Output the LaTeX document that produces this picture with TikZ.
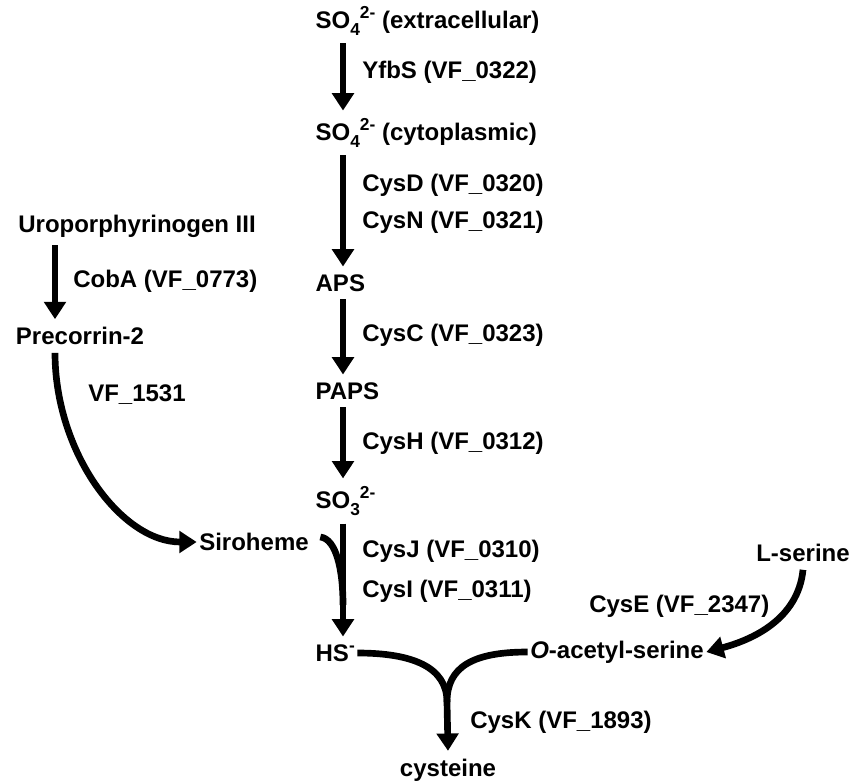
\documentclass[tikz,border=0pt]{standalone}
\usepackage{fontspec}
\setmainfont{Liberation Sans}
\usetikzlibrary{arrows.meta}
\tikzset{
  every node/.style={font=\fontsize{18}{21}\selectfont\bfseries, inner sep=0pt},
  met/.style={outer xsep=2pt, outer ysep=6pt},
  enz/.style={anchor=west},
  rxn/.style={line width=5pt, -{Triangle[width=16pt,length=13pt]}},
  rxnline/.style={line width=5pt}
}
\newcommand{\ionsub}[1]{\raisebox{-0.28em}{\fontsize{13}{13}\selectfont #1}}
\newcommand{\ionsup}[1]{\raisebox{0.42em}{\fontsize{13}{13}\selectfont #1}}
\newcommand{\sulf}[2]{SO\ionsub{#1}\ionsup{#2}}
\begin{document}
\begin{tikzpicture}[x=0.75pt,y=-0.75pt]
      \useasboundingbox (0,0) rectangle (867,784);
      \coordinate (col) at (343,0);
      \coordinate (lcol) at (55,0);
      \coordinate (join) at (447,702);
      \coordinate (sirojoin) at (343,605);
      \draw
        (313,21) node[met,anchor=west] (ext){\sulf{4}{2-} (extracellular)}
        (313,133) node[met,anchor=west] (cyt){\sulf{4}{2-} (cytoplasmic)}
        (313,283) node[met,anchor=west] (aps){APS}
        (313,391) node[met,anchor=west] (paps){PAPS}
        (313,501) node[met,anchor=west] (so3){\sulf{3}{2-}}
        (313,653) node[met,anchor=west] (hs){HS\ionsup{-}}
        (448,770) node[met] (cys){cysteine}
        (137,226) node[met] (uro){Uroporphyrinogen III}
        (80,336) node[met] (prec){Precorrin-2}
        (254,542) node[met] (siro){Siroheme}
        (803,553) node[met] (lser){L-serine}
        (617,652) node[met] (oas){\textit{O}-acetyl-serine};
      \draw
        (362,72) node[enz] (yfbs){YfbS (VF\_0322)}
        (362,185) node[enz] (cysd){CysD (VF\_0320)}
        (362,222) node[enz] (cysn){CysN (VF\_0321)}
        (362,335) node[enz] (cysc){CysC (VF\_0323)}
        (362,443) node[enz] (cysh){CysH (VF\_0312)}
        (362,551) node[enz] (cysj){CysJ (VF\_0310)}
        (362,591) node[enz] (cysi){CysI (VF\_0311)}
        (73,281) node[enz] (coba){CobA (VF\_0773)}
        (88,395) node[enz] (vf){VF\_1531}
        (589,606) node[enz] (cyse){CysE (VF\_2347)}
        (470,722) node[enz] (cysk){CysK (VF\_1893)};
      \begin{scope}[rxn]
        \draw (ext.south -| col) to (cyt.north -| col);
        \draw (cyt.south -| col) to (aps.north -| col);
        \draw (aps.south -| col) to (paps.north -| col);
        \draw (paps.south -| col) to (so3.north -| col);
        \draw (so3.south -| col) to (hs.north -| col);
        \draw (uro.south -| lcol) to (prec.north -| lcol);
        \draw (prec.south -| lcol) .. controls +(0,100) and +(-75,0) .. (siro.west);
        \draw (lser.south) .. controls +(-5,50) and +(45,-12) .. (oas.east);
        \draw (join) to (cys.north);
      \end{scope}
      \begin{scope}[rxnline]
        \draw ([shift={(9,-5)}]siro.east) .. controls +(16,2) and +(0,-35) .. (sirojoin);
        \draw (hs.east) .. controls +(55,0) and +(0,-35) .. (join);
        \draw (oas.west) .. controls +(-55,0) and +(0,-35) .. (join);
      \end{scope}
    \end{tikzpicture}
\end{document}
